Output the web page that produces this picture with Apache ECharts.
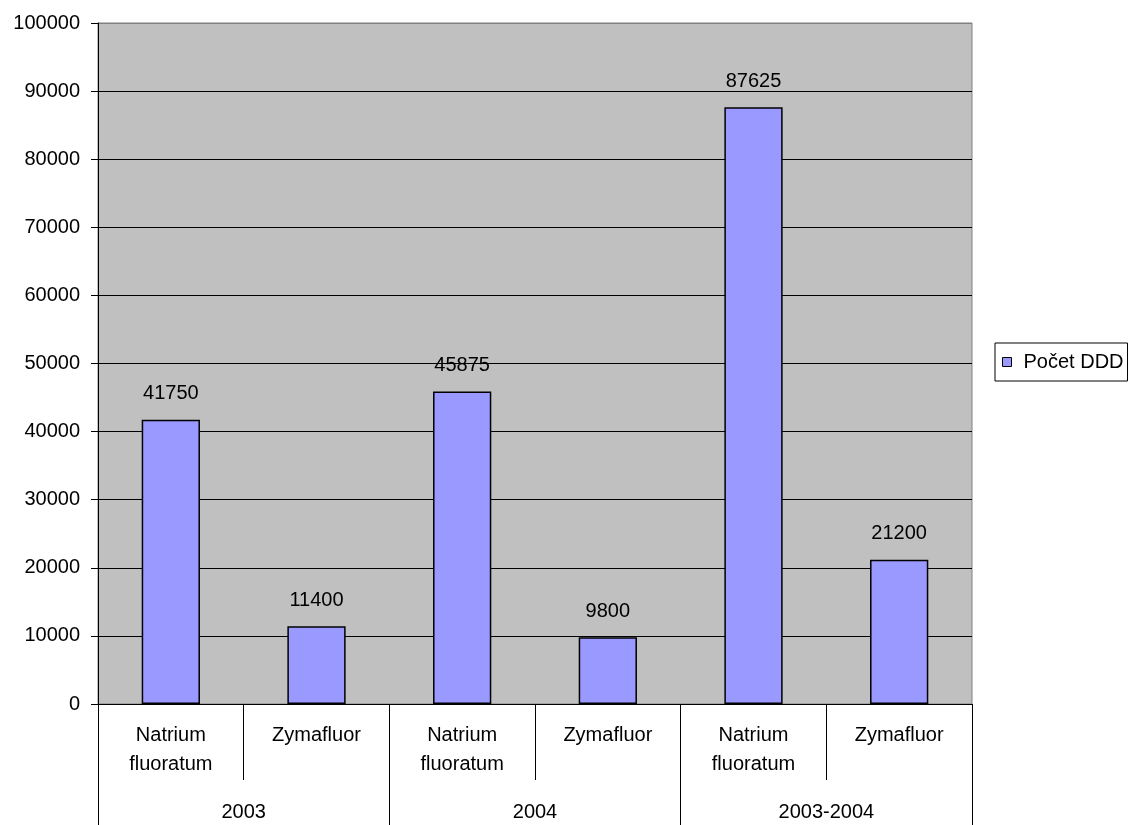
<!DOCTYPE html>
<html>
<head>
<meta charset="utf-8">
<title>Počet DDD</title>
<script src="https://cdn.jsdelivr.net/npm/echarts@6/dist/echarts.min.js"></script>
<style>
  html, body { margin: 0; padding: 0; background: #fff; }
  #main { width: 1131px; height: 825px; }
</style>
</head>
<body>
<div id="main"></div>
<script>
// data
var drugs = ['Natrium\nfluoratum', 'Zymafluor', 'Natrium\nfluoratum', 'Zymafluor', 'Natrium\nfluoratum', 'Zymafluor'];
var periods = ['2003', '2004', '2003-2004'];
var ddd = [41750, 11400, 45875, 9800, 87625, 21200];
var seriesName = 'Počet DDD';

var font = 'Arial, "Liberation Sans", sans-serif';

// gridline colours: black, top one grey like the plot border
var splitColors = [];
for (var i = 0; i < 10; i++) splitColors.push('#000');
splitColors.push('#808080');

var chart = echarts.init(document.getElementById('main'));
var option = {
    animation: false,
    textStyle: { fontFamily: font },
    grid: {
        left: 98, right: 159, top: 23, bottom: 121,
        show: true,
        backgroundColor: '#C0C0C0',
        borderColor: '#808080',
        borderWidth: 1
    },
    legend: {
        data: [seriesName],
        left: 995, top: 343,
        orient: 'vertical',
        icon: 'rect',
        itemWidth: 9, itemHeight: 9,
        padding: [9, 4, 9, 7],
        borderColor: '#000', borderWidth: 1,
        backgroundColor: '#fff',
        itemStyle: { color: '#9999FF', borderColor: '#000', borderWidth: 1 },
        textStyle: { fontSize: 20, color: '#000', fontFamily: font, padding: [0, 0, 0, 7] }
    },
    xAxis: [{
        type: 'category',
        data: drugs,
        position: 'bottom',
        axisLine: { lineStyle: { color: '#000', width: 1 } },
        axisTick: { show: true, interval: 0, length: 76, lineStyle: { color: '#000', width: 1 } },
        axisLabel: { interval: 0, margin: 17, fontSize: 20, lineHeight: 29, color: '#000', fontFamily: font }
    }, {
        type: 'category',
        data: periods,
        position: 'bottom',
        axisLine: { show: false },
        axisTick: { show: true, interval: 0, length: 121, lineStyle: { color: '#000', width: 1 } },
        axisLabel: { interval: 0, margin: 98, fontSize: 20, lineHeight: 20, color: '#000', fontFamily: font }
    }],
    yAxis: {
        type: 'value',
        min: 0, max: 100000, interval: 10000,
        axisLine: { show: true, lineStyle: { color: '#000', width: 1 } },
        axisTick: { show: true, length: 7, lineStyle: { color: '#000', width: 1 } },
        axisLabel: {
            margin: 18, fontSize: 20, color: '#000', fontFamily: font,
            formatter: function (v) { return String(v); }
        },
        splitLine: { show: true, lineStyle: { color: splitColors, width: 1 } }
    },
    series: [{
        name: seriesName,
        type: 'bar',
        xAxisIndex: 0,
        data: ddd,
        barWidth: '40%',
        itemStyle: { color: '#9999FF', borderColor: '#000', borderWidth: 1.5 },
        label: {
            show: true,
            position: 'top',
            distance: 16,
            fontSize: 20,
            color: '#000',
            fontFamily: font
        }
    }]
};
chart.setOption(option);
</script>
</body>
</html>
